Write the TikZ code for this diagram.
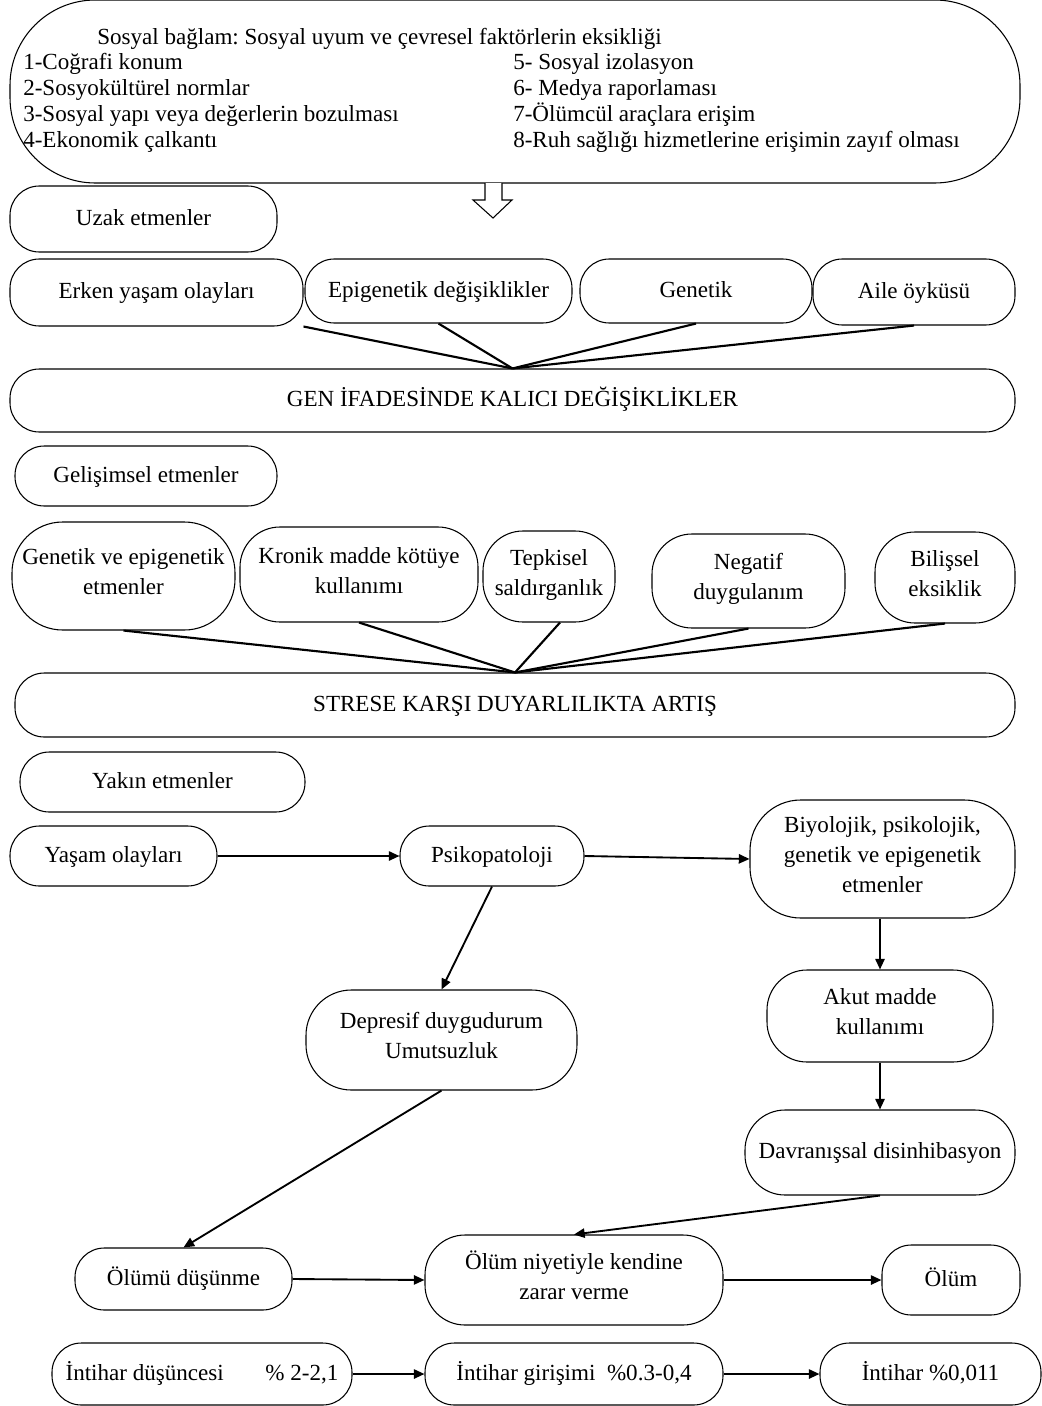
\documentclass[tikz,border=0pt]{standalone}
\usepackage{fontspec}
\setmainfont{Liberation Serif}
\usetikzlibrary{arrows.meta,calc}
\frenchspacing
\newcommand\fs{\fontsize{17.3}{22.5}\selectfont}
\newcommand\rbox[7]{\node[box,#2,minimum width={(#5-#3)*0.75pt},minimum height={(#6-#4)*0.75pt}] (#1) at ({(#3+#5)/2},{(#4+#6)/2}) {#7};}
\tikzset{
  box/.style={draw, rounded corners=22pt, align=center, inner sep=0pt, line width=0.8pt, font=\fs,
    execute at begin node=\strut, execute at end node=\strut},
  big/.style={rounded corners=30pt},
  huge/.style={rounded corners=38pt},
  conn/.style={line width=1.6pt},
  arr/.style={line width=1.4pt, -{Triangle[length=8pt,width=7pt]}},
  lbl/.style={anchor=base west, inner sep=0pt, font=\fs}
}
\begin{document}
\begin{tikzpicture}[x=0.75pt,y=-0.75pt]
\useasboundingbox (0,0) rectangle (1042,1406);
% top box
\rbox{top}{rounded corners=64pt}{10}{0}{1020}{183}{}
\node[lbl] (t0) at (97,44) {Sosyal bağlam: Sosyal uyum ve çevresel faktörlerin eksikliği};
\node[lbl] (t1) at (23,69) {1-Coğrafi konum};
\node[lbl] (t2) at (23,95) {2-Sosyokültürel normlar};
\node[lbl] (t3) at (23,121) {3-Sosyal yapı veya değerlerin bozulması};
\node[lbl] (t4) at (23,147) {4-Ekonomik çalkantı};
\node[lbl] (t5) at (513,69) {5- Sosyal izolasyon};
\node[lbl] (t6) at (513,95) {6- Medya raporlaması};
\node[lbl] (t7) at (513,121) {7-Ölümcül araçlara erişim};
\node[lbl] (t8) at (513,147) {8-Ruh sağlığı hizmetlerine erişimin zayıf olması};
% hollow arrow
\draw[line width=0.8pt, fill=white] (485,183) -- (485,200) -- (473,200) -- (493,218) -- (512,200) -- (502,200) -- (502,183);
% distal factors
\rbox{uzak}{}{10}{186}{277}{252}{Uzak etmenler}
\rbox{erken}{}{10}{259}{303}{326}{Erken yaşam olayları}
\rbox{epi}{}{305}{259}{572}{323}{Epigenetik değişiklikler}
\rbox{gen}{}{580}{259}{812}{323}{Genetik}
\rbox{aile}{}{813}{259}{1015}{325}{Aile öyküsü}
\rbox{gif}{}{10}{369}{1015}{432}{GEN İFADESİNDE KALICI DEĞİŞİKLİKLER}
\draw[conn] (erken.south east) -- (gif.north);
\draw[conn] (epi.south) -- (gif.north);
\draw[conn] (gen.south) -- (gif.north);
\draw[conn] (aile.south) -- (gif.north);
% developmental
\rbox{gelis}{}{15}{446}{277}{506}{Gelişimsel etmenler}
\rbox{gve}{huge}{12}{522}{235}{630}{Genetik ve epigenetik\\etmenler}
\rbox{kron}{big}{240}{527}{478}{622}{Kronik madde kötüye\\kullanımı}
\rbox{tep}{big}{483}{531}{615}{622}{Tepkisel\\saldırganlık}
\rbox{neg}{big}{652}{534}{845}{628}{Negatif\\duygulanım}
\rbox{bil}{big}{875}{532}{1015}{623}{Bilişsel\\eksiklik}
\rbox{str}{}{15}{673}{1015}{737}{STRESE KARŞI DUYARLILIKTA ARTIŞ}
\draw[conn] (gve.south) -- (str.north);
\draw[conn] (kron.south) -- (str.north);
\draw[conn] ($(tep.south)+(11,0)$) -- (str.north);
\draw[conn] (neg.south) -- (str.north);
\draw[conn] (bil.south) -- (str.north);
% proximal
\rbox{yakin}{}{20}{752}{305}{812}{Yakın etmenler}
\rbox{yasam}{}{10}{826}{217}{886}{Yaşam olayları}
\rbox{psiko}{}{400}{826}{584}{886}{Psikopatoloji}
\rbox{biyo}{huge}{750}{800}{1015}{918}{Biyolojik, psikolojik,\\genetik ve epigenetik\\etmenler}
\rbox{dep}{rounded corners=34pt}{306}{990}{577}{1090}{Depresif duygudurum\\Umutsuzluk}
\rbox{akut}{big}{767}{970}{993}{1062}{Akut madde\\kullanımı}
\rbox{davr}{big}{745}{1110}{1015}{1195}{Davranışsal disinhibasyon}
\rbox{olumu}{}{75}{1248}{292}{1310}{Ölümü düşünme}
\rbox{niyet}{big}{425}{1235}{723}{1325}{Ölüm niyetiyle kendine\\zarar verme}
\rbox{olum}{}{882}{1245}{1020}{1315}{Ölüm}
\draw[arr] (yasam.east) -- (psiko.west);
\draw[arr] (psiko.east) -- (biyo.west);
\draw[arr] (psiko.south) -- (dep.north);
\draw[arr] (biyo.south -| akut.north) -- (akut.north);
\draw[arr] (akut.south) -- (davr.north);
\draw[arr] (dep.south) -- (olumu.north);
\draw[arr] (davr.south) -- (niyet.north);
\draw[arr] (olumu.east) -- (niyet.west);
\draw[arr] (niyet.east) -- (olum.west);
% bottom row
\rbox{idus}{}{52}{1343}{352}{1405}{İntihar düşüncesi\hspace{1.8em}\% 2-2,1}
\rbox{igir}{}{425}{1343}{723}{1405}{İntihar girişimi\hspace{0.5em}\%0.3-0,4}
\rbox{iol}{}{820}{1343}{1041}{1405}{İntihar \%0,011}
\draw[arr] (idus.east) -- (igir.west);
\draw[arr] (igir.east) -- (iol.west);
\end{tikzpicture}
\end{document}
